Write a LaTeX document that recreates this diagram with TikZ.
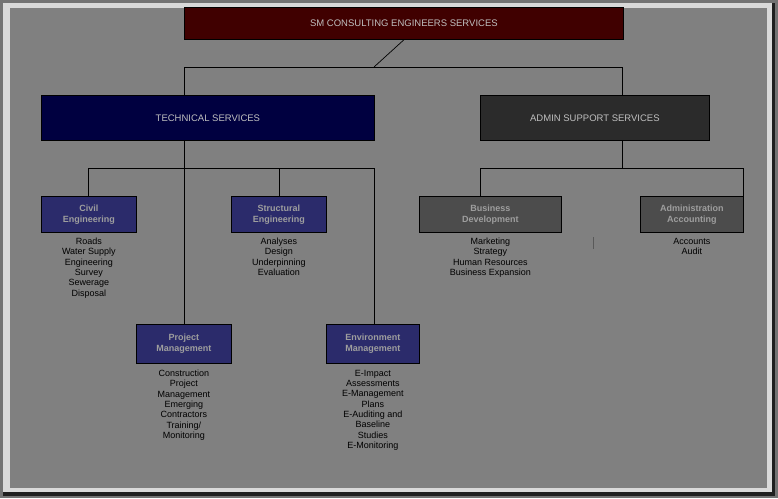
\documentclass[tikz,border=0pt]{standalone}
\usepackage{fontspec}
\setmainfont{Liberation Sans}
\begin{document}
\begin{tikzpicture}[x=1pt,y=-1pt,
  box/.style={draw=black,line width=0.8pt,anchor=north west,inner sep=0pt,align=center},
  big/.style={box,font=\fontsize{9.5}{11}\selectfont,text=black!25},
  small/.style={box,font=\bfseries\fontsize{9}{11}\selectfont,text=black!38},
  list/.style={anchor=north,align=center,font=\fontsize{9}{10.3}\selectfont,text=black,inner sep=0pt},
  ln/.style={draw=black,line width=0.7pt}]
\useasboundingbox (0,0) rectangle (778,498);
\fill[black!55] (0,0) rectangle (778,498);
\fill[black!88!white] (3,3) rectangle (775,496);
\fill[white!85!black] (3,3) rectangle (772,492);
\fill[black!50] (10,8) rectangle (767,488);
\colorlet{sb}{blue!35!black!80!white}
\definecolor{sb}{RGB}{43,43,107}
\node[big,fill=red!25!black,minimum width=439,minimum height=32] (top) at (184,7) {SM CONSULTING ENGINEERS SERVICES};
\node[big,fill=blue!25!black,minimum width=333,minimum height=45] (tech) at (41,95) {TECHNICAL SERVICES};
\node[big,fill=black!83,minimum width=229,minimum height=45] (adm) at (480,95) {ADMIN SUPPORT SERVICES};
\node[small,fill=sb,minimum width=95,minimum height=36] (civ) at (41,196) {Civil\\Engineering};
\node[small,fill=sb,minimum width=95,minimum height=36] (str) at (231,196) {Structural\\Engineering};
\node[small,fill=sb,minimum width=95,minimum height=39] (pm) at (136,324) {Project\\Management};
\node[small,fill=sb,minimum width=93,minimum height=39] (env) at (326,324) {Environment\\Management};
\node[small,fill=black!70,minimum width=142,minimum height=36] (bd) at (419,196) {Business\\Development};
\node[small,fill=black!70,minimum width=103,minimum height=36] (aa) at (640,196) {Administration\\Accounting};
\node[list] (l1) at ([yshift=-5]civ.south) {Roads\\Water Supply\\Engineering\\Survey\\Sewerage\\Disposal};
\node[list] (l2) at ([yshift=-5]str.south) {Analyses\\Design\\Underpinning\\Evaluation};
\node[list] (l3) at ([yshift=-6]pm.south) {Construction\\Project\\Management\\Emerging\\Contractors\\Training/\\Monitoring};
\node[list] (l4) at ([yshift=-6]env.south) {E-Impact\\Assessments\\E-Management\\Plans\\E-Auditing and\\Baseline\\Studies\\E-Monitoring};
\node[list] (l5) at ([yshift=-5]bd.south) {Marketing\\Strategy\\Human Resources\\Business Expansion};
\node[list] (l6) at ([yshift=-5]aa.south) {Accounts\\Audit};
\coordinate (a1) at (374,67); \coordinate (a2) at (184,67); \coordinate (a3) at (622,67);
\coordinate (b1) at (184,168); \coordinate (b2) at (88,168); \coordinate (b3) at (374,168); \coordinate (b4) at (279,168);
\coordinate (c1) at (622,168); \coordinate (c2) at (480,168); \coordinate (c3) at (743,168);
\draw[ln] (top.south) -- (a1);
\draw[ln] (a2 |- tech.north) -- (a2) -- (a3) -- (a3 |- adm.north);
\draw[ln] (b1 |- tech.south) -- (b1 |- pm.north);
\draw[ln] (b2 |- civ.north) -- (b2) -- (b3) -- (b3 |- env.north);
\draw[ln] (b4) -- (b4 |- str.north);
\draw[ln] (c1 |- adm.south) -- (c1);
\draw[ln] (c2 |- bd.north) -- (c2) -- (c3) -- (c3 |- aa.north);
\draw[black!65,line width=0.6pt] (593,237) -- (593,249);
\end{tikzpicture}
\end{document}
